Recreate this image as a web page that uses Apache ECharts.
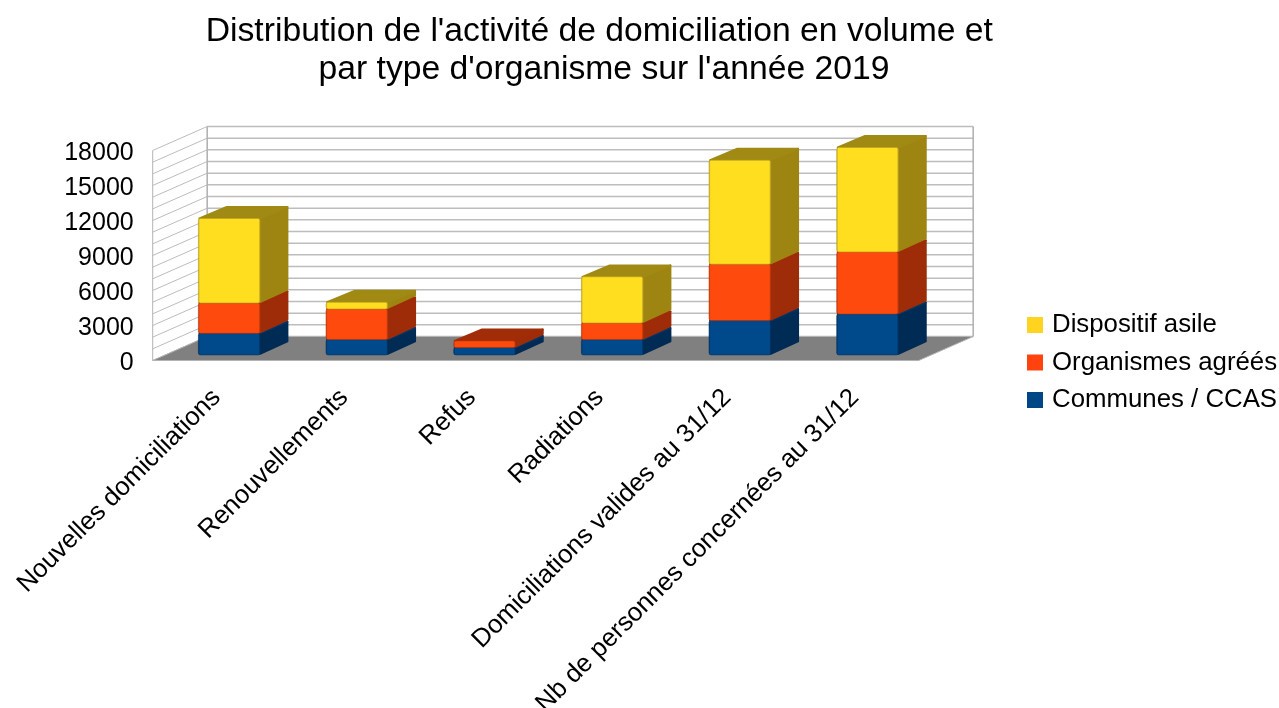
<!DOCTYPE html>
<html>
<head>
<meta charset="utf-8">
<title>Domiciliation 2019</title>
<script src="https://cdn.jsdelivr.net/npm/echarts@6/dist/echarts.min.js"></script>
<style>
  html, body { margin: 0; padding: 0; background: #fff; }
  #chart { width: 1279px; height: 708px; }
</style>
</head>
<body>
<div id="chart"></div>
<script>
const categories = [
  'Nouvelles domiciliations',
  'Renouvellements',
  'Refus',
  'Radiations',
  'Domiciliations valides au 31/12',
  'Nb de personnes concernées au 31/12'
];
const communes = [1850, 1320, 630, 1320, 2950, 3510];
const organismes = [2600, 2620, 570, 1420, 4820, 5320];
const asile = [7250, 570, 0, 3950, 8920, 8950];
const gridTicks = [0, 1000, 2000, 3000, 4000, 5000, 6000, 7000, 8000, 9000,
  10000, 11000, 12000, 13000, 14000, 15000, 16000, 17000, 18000];

const FONT = '"Liberation Sans", Arial, sans-serif';

// fake 3D: the grid is the front plane, the back wall is shifted by this much
const WALL_DX = 54.5;
const WALL_DY = -24;
// bars sit a bit inside the depth of the floor
const BAR_SHIFT = 0.233;
const BAR_DEPTH = 0.52;
const BAR_WIDTH = 0.483;

const poly = (points, fill, stroke) => ({
  type: 'polygon',
  shape: { points },
  style: { fill, stroke: stroke || null, lineWidth: stroke ? 1 : 0 }
});

// same colour stroke with round joins gives the soft corners of the 3D box
const softPoly = (points, fill) => ({
  type: 'polygon',
  shape: { points },
  style: { fill, stroke: fill, lineWidth: 2, lineJoin: 'round' }
});

function darkEdges(base, edge) {
  return new echarts.graphic.LinearGradient(0, 0, 1, 0, [
    { offset: 0, color: edge },
    { offset: 0.03, color: base },
    { offset: 0.97, color: base },
    { offset: 1, color: edge }
  ]);
}

// one stacked segment: side, top, then the front face over them
function renderSegment(colors) {
  return function (params, api) {
    if (api.value(2) === api.value(1)) return null;
    const center = api.coord([api.value(0), 0])[0];
    const w = api.size([1, 0])[0] * BAR_WIDTH;
    const shiftX = WALL_DX * BAR_SHIFT;
    const shiftY = WALL_DY * BAR_SHIFT;
    const dx = WALL_DX * BAR_DEPTH;
    const dy = WALL_DY * BAR_DEPTH;
    const left = center - w / 2 + shiftX;
    const right = left + w;
    const bottom = api.coord([0, api.value(1)])[1] + shiftY;
    const top = api.coord([0, api.value(2)])[1] + shiftY;
    return {
      type: 'group',
      children: [
        softPoly([[right, top], [right + dx - 1, top + dy + 1], [right + dx - 1, bottom + dy - 1], [right, bottom - 1]], colors.side),
        softPoly([[left + 1, top], [left + dx, top + dy + 1], [right + dx - 1, top + dy + 1], [right, top]], colors.top),
        {
          type: 'rect',
          shape: { x: left, y: top, width: w, height: bottom - top, r: 2 },
          style: { fill: darkEdges(colors.front, colors.edge), stroke: colors.edge, lineWidth: 0.6 }
        }
      ]
    };
  };
}

function plotEdges(api) {
  const half = api.size([1, 0])[0] / 2;
  return {
    left: api.coord([0, 0])[0] - half,
    right: api.coord([categories.length - 1, 0])[0] + half
  };
}

function renderGridLine(params, api) {
  const { left, right } = plotEdges(api);
  const y = api.coord([0, api.value(0)])[1];
  const backY = y + WALL_DY;
  return {
    type: 'group',
    children: [
      { type: 'line', shape: { x1: left, y1: y, x2: left + WALL_DX, y2: backY }, style: { stroke: '#bcbcbc', lineWidth: 1 } },
      { type: 'line', shape: { x1: left + WALL_DX, y1: backY, x2: right + WALL_DX, y2: backY }, style: { stroke: '#bdbdbd', lineWidth: 1.5 } }
    ]
  };
}

function renderFloor(params, api) {
  const { left, right } = plotEdges(api);
  const y0 = api.coord([0, 0])[1];
  const yt = api.coord([0, api.value(0)])[1];
  return {
    type: 'group',
    children: [
      poly([[left, y0], [left + WALL_DX, y0 + WALL_DY], [right + WALL_DX, y0 + WALL_DY], [right, y0]], '#808080', '#b3b3b3'),
      { type: 'line', shape: { x1: left, y1: y0, x2: left, y2: yt }, style: { stroke: '#b3b3b3', lineWidth: 1 } },
      { type: 'line', shape: { x1: left + WALL_DX, y1: y0 + WALL_DY, x2: left + WALL_DX, y2: yt + WALL_DY }, style: { stroke: '#b3b3b3', lineWidth: 1.6 } },
      { type: 'line', shape: { x1: right + WALL_DX, y1: y0 + WALL_DY, x2: right + WALL_DX, y2: yt + WALL_DY }, style: { stroke: '#b3b3b3', lineWidth: 1.6 } }
    ]
  };
}

function stackRows(values, below) {
  return values.map((v, i) => {
    const base = below.reduce((sum, arr) => sum + arr[i], 0);
    return [i, base, base + v];
  });
}

function segmentSeries(name, colors, values, below) {
  return {
    name,
    type: 'custom',
    renderItem: renderSegment(colors),
    encode: { x: 0, y: [1, 2] },
    itemStyle: { color: colors.legend },
    data: stackRows(values, below),
    clip: false,
    silent: true,
    z: 5
  };
}

const chart = echarts.init(document.getElementById('chart'));
chart.setOption({
  animation: false,
  tooltip: { show: false },
  title: {
    text: "Distribution de l'activité de domiciliation en volume et \npar type d'organisme sur l'année 2019",
    left: 604,
    top: 13,
    padding: 0,
    textAlign: 'center',
    textStyle: { fontFamily: FONT, fontSize: 33.7, fontWeight: 'normal', color: '#000', lineHeight: 38 }
  },
  legend: {
    orient: 'vertical',
    left: 1027,
    top: 312,
    padding: 0,
    itemWidth: 16,
    itemHeight: 16,
    itemGap: 11.5,
    icon: 'rect',
    selectedMode: false,
    textStyle: { fontFamily: FONT, fontSize: 25.8, color: '#000', padding: [0, 0, 0, 4] },
    data: [
      { name: 'Dispositif asile', itemStyle: { color: '#ffd320' } },
      { name: 'Organismes agréés', itemStyle: { color: '#ff420e' } },
      { name: 'Communes / CCAS', itemStyle: { color: '#004586' } }
    ]
  },
  // long rotated labels must not squeeze the plot (ECharts 6 default)
  grid: { left: 152.7, top: 150.5, width: 766, height: 210, outerBoundsMode: 'none' },
  xAxis: {
    type: 'category',
    data: categories,
    axisLine: { show: false },
    axisTick: { show: false },
    axisLabel: {
      rotate: 45,
      interval: 0,
      margin: 33,
      fontFamily: FONT,
      fontSize: 25.8,
      color: '#000'
    }
  },
  yAxis: {
    type: 'value',
    min: 0,
    max: 18000,
    interval: 1000,
    splitLine: { show: false },
    axisLine: { show: false },
    axisTick: { show: false },
    axisLabel: {
      margin: 19,
      formatter: v => (v % 3000 === 0 ? '{tick|' + v + '}' : ''),
      rich: {
        // top padding nudges the digits down a little
        tick: { fontFamily: FONT, fontSize: 25, color: '#000', padding: [6, 0, 0, 0] }
      }
    }
  },
  series: [
    {
      type: 'custom',
      renderItem: renderGridLine,
      encode: { y: 0 },
      data: gridTicks.map(v => [v]),
      clip: false,
      silent: true,
      z: 1
    },
    {
      type: 'custom',
      renderItem: renderFloor,
      encode: { y: 0 },
      data: [[gridTicks[gridTicks.length - 1]]],
      clip: false,
      silent: true,
      z: 2
    },
    segmentSeries('Communes / CCAS',
      { legend: '#004586', front: '#004a8c', side: '#002b55', top: '#003566', edge: '#00305f' },
      communes, []),
    segmentSeries('Organismes agréés',
      { legend: '#ff420e', front: '#ff4a0e', side: '#9e2c08', top: '#a02c08', edge: '#b5360c' },
      organismes, [communes]),
    segmentSeries('Dispositif asile',
      { legend: '#ffd320', front: '#ffdd1f', side: '#9e8512', top: '#a08a14', edge: '#b9a020' },
      asile, [communes, organismes])
  ]
});

window.addEventListener('resize', () => chart.resize());
</script>
</body>
</html>
